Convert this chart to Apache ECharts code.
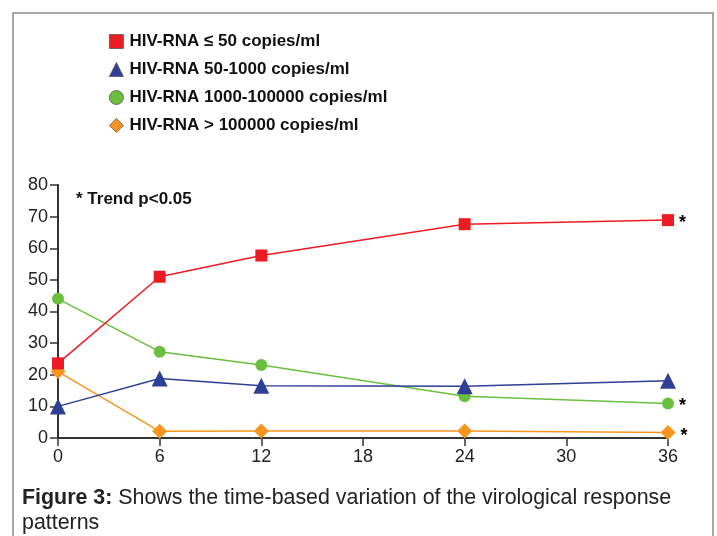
<!DOCTYPE html>
<html><head><meta charset="utf-8">
<script src="https://cdn.jsdelivr.net/npm/echarts@6/dist/echarts.min.js"></script>
<style>html,body{margin:0;padding:0;background:#fff}#c{width:717px;height:536px}</style>
</head><body><div id="c"></div>
<script>
const months = [0, 6, 12, 24, 36];
const xTicks = [0, 6, 12, 18, 24, 30, 36];
const yTicks = [0, 10, 20, 30, 40, 50, 60, 70, 80];
const seriesNames = ['HIV-RNA ≤ 50 copies/ml', 'HIV-RNA 50-1000 copies/ml', 'HIV-RNA 1000-100000 copies/ml', 'HIV-RNA > 100000 copies/ml'];
const rnaLe50 = [23.6, 51, 57.7, 67.6, 68.9];
const rna50to1000 = [10, 18.8, 16.5, 16.4, 18.1];
const rna1000to100000 = [44, 27.3, 23.1, 13.2, 10.9];
const rnaGt100000 = [21, 2.1, 2.2, 2.2, 1.7];
const significant = [true, false, true, true];

const colors = ['#ed1c24', '#2e3f96', '#6abf3f', '#f7941d'];
const symbols = ['rect', 'triangle', 'circle', 'diamond'];
const sizes = [12, 16, 12, 15];
const values = [rnaLe50, rna50to1000, rna1000to100000, rnaGt100000];

const chart = echarts.init(document.getElementById('c'));
const FONT = '"Liberation Sans", Arial, sans-serif';

const series = seriesNames.map((n, i) => ({
  name: n, type: 'line',
  data: months.map((m, j) => {
    const pt = { value: [m, values[i][j]] };
    if (significant[i] && j === months.length - 1) {
      pt.label = { show: true, position: 'right', formatter: '*', distance: 5,
        fontSize: 18, fontWeight: 'bold', color: '#000', fontFamily: FONT, offset: [0, 3] };
    }
    return pt;
  }),
  symbol: symbols[i], symbolSize: sizes[i],
  lineStyle: { color: colors[i], width: 1.5 },
  itemStyle: { color: colors[i] },
  emphasis: { disabled: true },
  z: 10 - i
}));

chart.setOption({
  animation: false,
  backgroundColor: '#fff',
  textStyle: { fontFamily: FONT },
  grid: { left: 58, right: 49, top: 185, bottom: 98, containLabel: false },
  legend: {
    orient: 'vertical', left: 109, top: 33, padding: 0,
    itemWidth: 14, itemHeight: 14, itemGap: 11,
    data: seriesNames.map((n, i) => ({ name: n, icon: symbols[i],
      itemStyle: { color: colors[i], borderColor: '#555', borderWidth: 0.8 } })),
    textStyle: { fontSize: 17, fontWeight: 'bold', color: '#111', fontFamily: FONT, padding: [0, 0, 0, 1] },
    selectedMode: false
  },
  xAxis: {
    type: 'value', min: xTicks[0], max: xTicks[xTicks.length - 1], interval: 6,
    axisLine: { lineStyle: { color: '#333', width: 2 } },
    axisTick: { show: true, length: 8, lineStyle: { color: '#333', width: 1.5 } },
    axisLabel: { fontSize: 18, color: '#222', margin: 10, fontFamily: FONT },
    splitLine: { show: false }
  },
  yAxis: {
    type: 'value', min: yTicks[0], max: yTicks[yTicks.length - 1], interval: 10,
    axisLine: { show: true, lineStyle: { color: '#333', width: 2 } },
    axisTick: { show: true, length: 8, lineStyle: { color: '#333', width: 1.5 } },
    axisLabel: { fontSize: 18, color: '#222', margin: 10, fontFamily: FONT },
    splitLine: { show: false }
  },
  graphic: [
    { type: 'rect', shape: { x: 13, y: 13, width: 700, height: 540 }, style: { fill: 'none', stroke: '#8a8a8a', lineWidth: 1.5 }, silent: true },
    { type: 'text', left: 76, top: 191, style: { text: '* Trend p<0.05', font: 'bold 17px ' + FONT, fill: '#111' } },
    { type: 'text', left: 22, top: 486, style: {
      text: '{b|Figure 3:} Shows the time-based variation of the virological response\npatterns',
      rich: { b: { fontWeight: 'bold', fontSize: 21.4, fontFamily: FONT, fill: '#222' } },
      font: '21.4px ' + FONT, fill: '#222', lineHeight: 25 } }
  ],
  series: series
});
</script></body></html>
